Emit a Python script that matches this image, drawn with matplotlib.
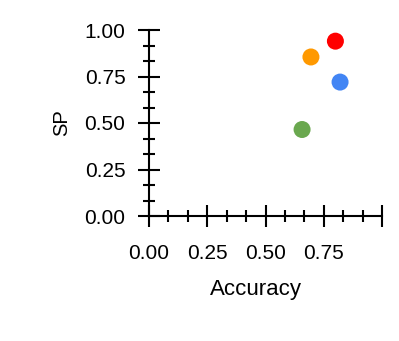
import matplotlib.pyplot as plt
from matplotlib.ticker import MultipleLocator

plt.rcParams["font.family"] = ["Liberation Sans", "DejaVu Sans"]

accuracy = [0.80, 0.695, 0.82, 0.657]
sp = [0.94, 0.855, 0.72, 0.465]
colors = ["#ff0000", "#ff9900", "#4285f4", "#6aa84f"]
x_ticks = [0.0, 0.25, 0.5, 0.75, 1.0]
x_labels = ["0.00", "0.25", "0.50", "0.75", ""]
y_ticks = [0.0, 0.25, 0.5, 0.75, 1.0]
y_labels = ["0.00", "0.25", "0.50", "0.75", "1.00"]

fig = plt.figure(figsize=(3.99, 3.41), dpi=100)
ax = fig.add_axes([149 / 399, 1 - 216 / 341, 233 / 399, 186 / 341])

ax.scatter(accuracy, sp, s=150, c=colors, edgecolors="none", zorder=3, clip_on=False)

ax.set_xlim(0, 1)
ax.set_ylim(0, 1)
ax.set_xticks(x_ticks)
ax.set_xticklabels(x_labels)
ax.set_yticks(y_ticks)
ax.set_yticklabels(y_labels)
ax.xaxis.set_minor_locator(MultipleLocator(0.25 / 3))
ax.yaxis.set_minor_locator(MultipleLocator(0.25 / 3))

for side in ["top", "right"]:
    ax.spines[side].set_visible(False)
for side in ["left", "bottom"]:
    ax.spines[side].set_linewidth(1.5)

ax.tick_params(which="major", direction="inout", length=16, width=1.5,
               labelsize=15)
ax.tick_params(which="minor", direction="inout", length=8.5, width=1.5)
ax.tick_params(axis="x", which="major", pad=12.5)
ax.tick_params(axis="y", which="major", pad=9)

ax.set_xlabel("Accuracy", fontsize=16)
ax.set_ylabel("SP", fontsize=14.5)
ax.xaxis.set_label_coords(0.46, -0.34)
ax.yaxis.set_label_coords(-0.335, 0.5)

fig.savefig("out.png", dpi=100)
